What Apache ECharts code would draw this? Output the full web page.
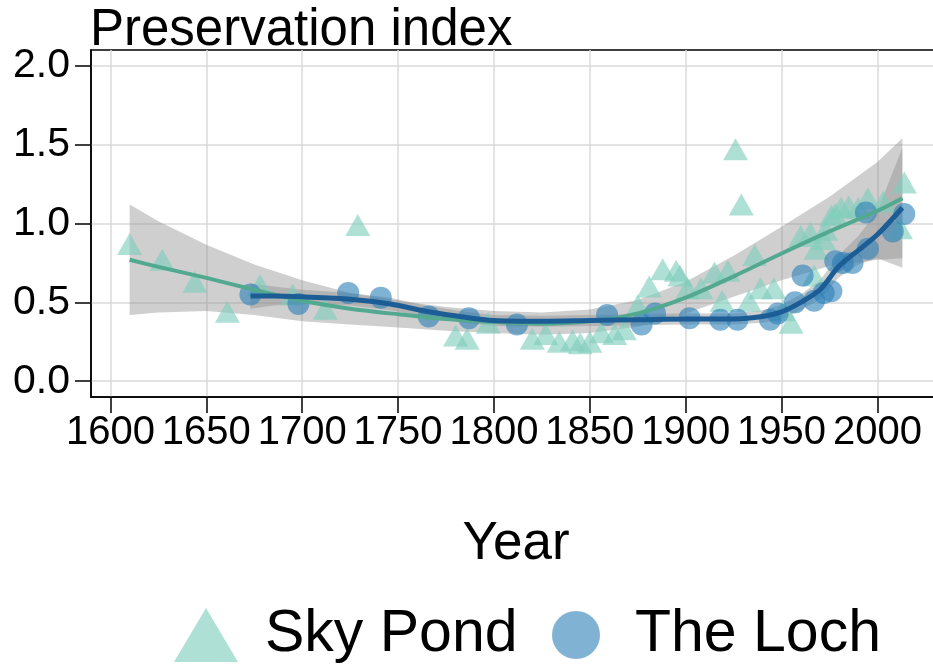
<!DOCTYPE html>
<html>
<head>
<meta charset="utf-8">
<script src="https://cdn.jsdelivr.net/npm/echarts@6/dist/echarts.min.js"></script>
<style>
html,body{margin:0;padding:0;background:#fff;}
#chart{width:933px;height:667px;}
</style>
</head>
<body>
<div id="chart"></div>
<script>
// ---- data ----
const xTicks = [1600, 1650, 1700, 1750, 1800, 1850, 1900, 1950, 2000];
const yTicks = [0, 0.5, 1.0, 1.5, 2.0];

const skyYears  = [1610,1627,1644,1661,1678,1695,1712,1729,1780,1786,1797,1820,1827,1834,1841,1845,1850,1856,1863,1868,1875,1881,1888,1895,1897,1901,1908,1915,1919,1922,1926,1929,1933,1936,1939,1946,1951,1955,1960,1965,1967,1968,1972,1973,1976,1978,1981,1985,1990,1995,2003,2012,2014];
const skyValues = [0.87,0.77,0.63,0.44,0.61,0.55,0.46,0.99,0.29,0.27,0.37,0.27,0.30,0.25,0.26,0.24,0.25,0.31,0.30,0.33,0.48,0.60,0.71,0.70,0.67,0.59,0.59,0.69,0.51,0.70,1.47,1.12,0.51,0.80,0.59,0.59,0.45,0.37,0.92,0.94,0.67,0.84,0.90,0.96,1.05,1.06,1.10,1.11,1.10,1.16,1.14,0.97,1.26];

const lochYears  = [1673,1698,1724,1741,1766,1787,1812,1859,1877,1884,1902,1918,1927,1944,1948,1957,1961,1967,1972,1976,1978,1982,1987,1994,1995,2008,2014];
const lochValues = [0.55,0.49,0.56,0.53,0.41,0.40,0.36,0.42,0.36,0.43,0.40,0.39,0.39,0.39,0.43,0.50,0.67,0.51,0.56,0.57,0.76,0.75,0.75,1.07,0.84,0.95,1.06];

// smoothed trend of Sky Pond with its confidence band
const skyFitYears = [1610,1625,1650,1675,1700,1725,1750,1775,1800,1825,1850,1875,1900,1925,1950,1975,2000,2013];
const skyFit      = [0.77,0.725,0.655,0.58,0.51,0.46,0.425,0.395,0.375,0.365,0.38,0.43,0.53,0.665,0.81,0.95,1.08,1.16];
const skyLower    = [0.42,0.435,0.445,0.42,0.38,0.36,0.34,0.32,0.305,0.295,0.305,0.345,0.43,0.535,0.64,0.73,0.77,0.78];
const skyUpper    = [1.12,1.015,0.865,0.74,0.64,0.56,0.51,0.47,0.445,0.435,0.455,0.515,0.63,0.795,0.98,1.17,1.39,1.54];

// smoothed trend of The Loch with its confidence band
const lochFitYears = [1673,1685,1700,1725,1746,1766,1785,1800,1825,1850,1875,1900,1925,1940,1950,1960,1970,1980,1990,2000,2013];
const lochFit      = [0.54,0.54,0.535,0.52,0.49,0.44,0.405,0.385,0.38,0.385,0.39,0.395,0.395,0.41,0.44,0.50,0.58,0.73,0.83,0.93,1.10];
const lochLower    = [0.46,0.48,0.49,0.48,0.45,0.405,0.37,0.35,0.345,0.35,0.355,0.36,0.36,0.37,0.395,0.45,0.52,0.66,0.74,0.78,0.72];
const lochUpper    = [0.62,0.60,0.58,0.56,0.53,0.475,0.44,0.42,0.415,0.42,0.425,0.43,0.43,0.45,0.485,0.55,0.64,0.80,0.92,1.08,1.48];

// ---- build chart ----
const FONT = "'Liberation Sans', Arial, Helvetica, sans-serif";
const zip = (a, b) => a.map((v, i) => [v, b[i]]);

function bandSeries(years, lower, upper) {
  return {
    type: 'custom',
    silent: true,
    data: [[years[0], lower[0]]],
    encode: { x: 0, y: 1 },
    renderItem: function (params, api) {
      const pts = [];
      for (let i = 0; i < years.length; i++) pts.push(api.coord([years[i], upper[i]]));
      for (let i = years.length - 1; i >= 0; i--) pts.push(api.coord([years[i], lower[i]]));
      return {
        type: 'polygon',
        shape: { points: pts },
        style: { fill: 'rgba(140,140,140,0.42)', stroke: null }
      };
    }
  };
}

const chart = echarts.init(document.getElementById('chart'), null, { renderer: 'canvas' });
chart.setOption({
  animation: false,
  backgroundColor: '#ffffff',
  title: {
    text: 'Preservation index',
    left: 90, top: 5, padding: 0,
    textStyle: { fontFamily: FONT, fontSize: 51, fontWeight: 'normal', color: '#000' }
  },
  grid: {
    left: 91, right: -8, top: 50, bottom: 270,
    show: true, borderColor: '#000', borderWidth: 1.5,
    outerBoundsMode: 'none', containLabel: false
  },
  legend: [
    {
      data: [{ name: 'Sky Pond', icon: 'triangle' }],
      left: 174, top: 600, padding: 0,
      itemWidth: 64, itemHeight: 54, selectedMode: false,
      textStyle: { fontFamily: FONT, fontSize: 59, color: '#000', lineHeight: 64, padding: [6, 0, 0, 22] }
    },
    {
      data: [{ name: 'The Loch', icon: 'circle' }],
      left: 552, top: 600, padding: 0,
      itemWidth: 48, itemHeight: 48, selectedMode: false,
      textStyle: { fontFamily: FONT, fontSize: 59, color: '#000', lineHeight: 64, padding: [6, 0, 0, 30] }
    }
  ],
  xAxis: {
    type: 'value',
    min: 1589.85, max: 2033.15,
    name: 'Year', nameLocation: 'middle', nameGap: 121,
    nameTextStyle: { fontFamily: FONT, fontSize: 53, color: '#000' },
    axisLine: { show: true, onZero: false, lineStyle: { color: '#000', width: 1.5 } },
    axisTick: { show: true, customValues: xTicks, length: 16, lineStyle: { color: '#000', width: 1.5 } },
    axisLabel: { customValues: xTicks, margin: 16, fontFamily: FONT, fontSize: 40, color: '#000',
                 hideOverlap: false, showMinLabel: true, showMaxLabel: true,
                 formatter: v => String(Math.round(v)) },
    splitLine: { show: true, lineStyle: { color: '#dadada', width: 1.5 } }
  },
  yAxis: {
    type: 'value',
    min: -0.1, max: 2.1,
    axisLine: { show: true, onZero: false, lineStyle: { color: '#000', width: 1.5 } },
    axisTick: { show: true, customValues: yTicks, length: 16, lineStyle: { color: '#000', width: 1.5 } },
    axisLabel: { customValues: yTicks, margin: 21, fontFamily: FONT, fontSize: 41, color: '#000',
                 hideOverlap: false, formatter: v => Number(v).toFixed(1) },
    splitLine: { show: true, lineStyle: { color: '#dadada', width: 1.5 } }
  },
  series: [
    {
      name: 'Sky Pond', type: 'scatter', symbol: 'triangle', symbolSize: [25, 22],
      itemStyle: { color: 'rgba(127,205,187,0.78)' },
      data: zip(skyYears, skyValues)
    },
    {
      name: 'The Loch', type: 'scatter', symbol: 'circle', symbolSize: 22,
      itemStyle: { color: 'rgba(44,127,184,0.75)' },
      data: zip(lochYears, lochValues)
    },
    bandSeries(skyFitYears, skyLower, skyUpper),
    bandSeries(lochFitYears, lochLower, lochUpper),
    {
      type: 'line', smooth: 0.3, showSymbol: false, silent: true,
      lineStyle: { color: '#52a98f', width: 4 },
      data: zip(skyFitYears, skyFit)
    },
    {
      type: 'line', smooth: 0.3, showSymbol: false, silent: true,
      lineStyle: { color: '#1d5d96', width: 5 },
      data: zip(lochFitYears, lochFit)
    }
  ]
});
</script>
</body>
</html>
